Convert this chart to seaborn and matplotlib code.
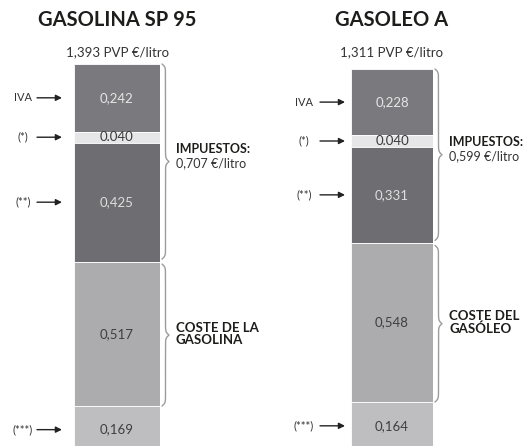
import numpy as np
import matplotlib
matplotlib.use("Agg")
import matplotlib.pyplot as plt
import seaborn as sns

# Datos en €/litro, segmentos de arriba hacia abajo
segmentos = ["IVA", "(*)", "(**)", "COSTE", "(***)"]
gasolina = [0.242, 0.040, 0.425, 0.517, 0.169]
gasoleo = [0.228, 0.040, 0.331, 0.548, 0.164]
etiquetas_gasolina = ["0,242", "0.040", "0,425", "0,517", "0,169"]
etiquetas_gasoleo = ["0,228", "0.040", "0,331", "0,548", "0,164"]
flechas = ["IVA", "(*)", "(**)", None, "(***)"]
titulos = ["GASOLINA SP 95", "GASOLEO A"]
pvp = ["1,393 PVP €/litro", "1,311 PVP €/litro"]
impuestos = ["0,707 €/litro", "0,599 €/litro"]
coste_txt = ["COSTE DE LA\nGASOLINA", "COSTE DEL\nGASÓLEO"]

colores = ["#7a7a7e", "#e6e6e8", "#6e6e72", "#acacaf", "#bebec1"]
col_texto = ["#e6e6e6", "#3a3a3a", "#dedede", "#3e3e3e", "#3e3e3e"]

sns.set_style("white")
plt.rcParams["font.family"] = ["Lato", "DejaVu Sans"]

fig = plt.figure(figsize=(5.27, 4.46), dpi=100)
W, H = 527, 446


def llave(ax, y0, y1, x0, w, px):
    # dibuja una llave "}" entre y0 e y1 (datos), x en fraccion del eje
    y = np.linspace(y0, y1, 401)
    mitad = y[:201]
    beta = 1 / (1.5 * px)
    xm = 1 / (1 + np.exp(-beta * (mitad - mitad[0]))) + 1 / (1 + np.exp(-beta * (mitad - mitad[-1])))
    xs = np.concatenate([xm, xm[-2::-1]]) - 0.5
    ax.plot(x0 + w * xs, y, color="#9c9c9c", lw=1.0,
            transform=ax.get_yaxis_transform(), clip_on=False)


# (borde izq px, ancho px, borde sup px, limite inferior, flecha ini, flecha fin, etiqueta x)
paneles = [
    (74, 86, 64, 0.026, -0.43, -0.14, -0.593),
    (351, 82, 69, 0.0125, -0.378, -0.073, -0.573),
]
datos = [gasolina, gasoleo]
etiquetas = [etiquetas_gasolina, etiquetas_gasoleo]

for k, (izq, ancho, sup, ymin, f0, f1, fl) in enumerate(paneles):
    vals = np.array(datos[k])
    tops = np.cumsum(vals[::-1])[::-1]
    bottoms = tops - vals
    ax = fig.add_axes([izq / W, 0, ancho / W, (H - sup) / H])

    for i in range(len(vals)):
        sns.barplot(x=[0], y=[vals[i]], bottom=bottoms[i], color=colores[i],
                    width=1, errorbar=None, saturation=1, ax=ax,
                    edgecolor="white", linewidth=0.6)
    ax.set_xlim(-0.5, 0.5)
    ax.set_ylim(ymin, tops[0])
    ax.axis("off")

    px = (tops[0] - ymin) / (H - sup)  # datos por pixel
    trans = ax.get_yaxis_transform()

    for i in range(len(vals)):
        ym = (bottoms[i] + tops[i]) / 2
        ax.text(0, ym, etiquetas[k][i], ha="center", va="center",
                color=col_texto[i], fontsize=9.5)
        if flechas[i]:
            ax.annotate("", xy=(f1, ym), xytext=(f0, ym), xycoords=trans,
                        textcoords=trans, annotation_clip=False,
                        arrowprops=dict(arrowstyle="-|>", color="#222222", lw=1.0,
                                        mutation_scale=9, shrinkA=0, shrinkB=0))
            ax.text(fl, ym, flechas[i], ha="center", va="center", transform=trans,
                    fontsize=8, color="#333333")

    # llaves
    x0 = 1 + 2 / ancho
    w = 7 / ancho
    gap = 2.5 * px
    llave(ax, bottoms[2] + gap, tops[0], x0, w, px)
    llave(ax, bottoms[3], tops[3] - gap, x0, w, px)

    xt = 1 + 16 / ancho
    y_imp = (bottoms[2] + tops[0]) / 2
    ax.annotate("IMPUESTOS:", xy=(xt, y_imp), xycoords=trans, xytext=(0, 10),
                textcoords="offset points", ha="left", va="center",
                fontsize=9, fontweight="bold", color="#1d1d1b", annotation_clip=False)
    ax.annotate(impuestos[k], xy=(xt, y_imp), xycoords=trans, xytext=(0, 0),
                textcoords="offset points", ha="left", va="center",
                fontsize=9, color="#333333", annotation_clip=False)
    y_cos = (bottoms[3] + tops[3]) / 2
    ax.annotate(coste_txt[k], xy=(xt, y_cos), xycoords=trans, xytext=(0, 0),
                textcoords="offset points", ha="left", va="center", linespacing=1.0,
                fontsize=9.5, fontweight="bold", color="#1d1d1b", annotation_clip=False)

    # titulos
    cx = (izq + ancho / 2) / W
    fig.text(cx, 1 - 20 / H, titulos[k], ha="center", va="center",
             fontsize=14.5, fontweight="bold", color="#1d1d1b")
    fig.text(cx, 1 - 52 / H, pvp[k], ha="center", va="center",
             fontsize=9.5, color="#333333")

plt.savefig("out.png", dpi=100)
plt.close()
